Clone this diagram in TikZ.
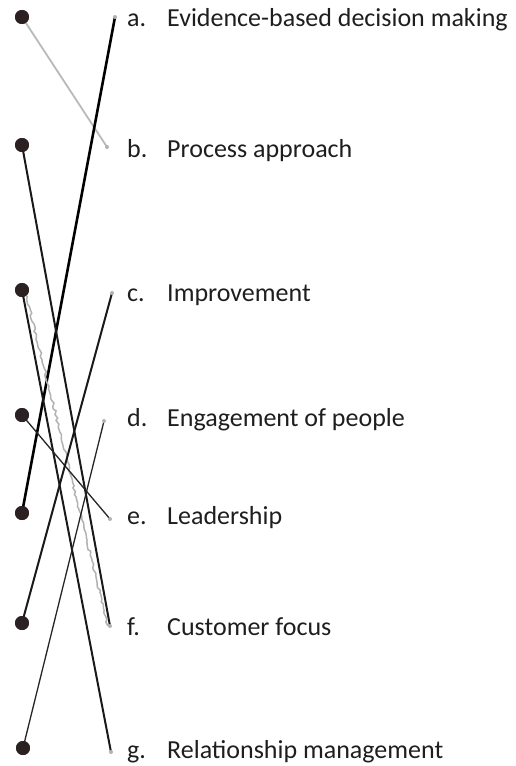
\documentclass[tikz,border=0pt]{standalone}
\usepackage{fontspec}
\setmainfont{Carlito}
\usetikzlibrary{decorations.pathmorphing}
\definecolor{dotc}{HTML}{2B2022}
\definecolor{txt}{HTML}{1E1E1E}
\tikzset{
  pin/.style={circle,fill=dotc,inner sep=0pt,minimum size=14pt},
  tip/.style={circle,fill=gray!70,inner sep=0pt,minimum size=3.5pt},
  lab/.style={anchor=base west,inner sep=0pt,font=\fontsize{26}{30}\selectfont,text=txt},
  thickline/.style={line width=2.6pt,black},
  midline/.style={line width=2pt,black!90},
  thinline/.style={line width=1.3pt,black!85},
  greyline/.style={line width=1.8pt,gray!55},
  scribble/.style={line width=1.5pt,gray!60,decorate,decoration={random steps,segment length=3pt,amplitude=1.2pt}}
}
\begin{document}
\begin{tikzpicture}[x=1pt,y=-1pt]
\useasboundingbox (0,0) rectangle (515,766);
% left pins
\node[pin] (L1) at (22,17) {};
\node[pin] (L2) at (22,145) {};
\node[pin] (L3) at (22,290) {};
\node[pin] (L4) at (22,415) {};
\node[pin] (L5) at (22,513) {};
\node[pin] (L6) at (22,623) {};
\node[pin] (L7) at (23,748) {};
% right ends
\coordinate (Ra) at (115,17);
\coordinate (Rb) at (107,147);
\coordinate (Rc) at (112,293);
\coordinate (Rd) at (104,421);
\coordinate (Re) at (110,519);
\coordinate (Rf) at (110,626);
\coordinate (Rg) at (111,752);
% connectors
\draw[greyline] (L1.center) -- (Rb);
\draw[thickline] (L5.center) -- (Ra);
\draw[midline] (L2.center) -- (Rf);
\draw[scribble] ([xshift=3pt]L3.center) -- ([xshift=-2pt]Rf);
\draw[midline] (L3.center) -- (Rg);
\draw[thinline] (L4.center) -- (Re);
\draw[midline] (L6.center) -- (Rc);
\draw[thinline] (L7.center) -- (Rd);
% pins and tips on top
\foreach \n in {L1,L2,L3,L4,L5,L6,L7}{\fill[dotc] (\n) circle (7pt);}
\foreach \n in {Ra,Rb,Rc,Rd,Re,Rf,Rg}{\fill[gray!60] (\n) circle (2pt);}
% labels
\node[lab] (la) at (127,26) {a.};
\node[lab] (ta) at (167,26) {Evidence-based decision making};
\node[lab] (lb) at (127,157) {b.};
\node[lab] (tb) at (167,157) {Process approach};
\node[lab] (lc) at (127,301) {c.};
\node[lab] (tc) at (167,301) {Improvement};
\node[lab] (ld) at (127,426) {d.};
\node[lab] (td) at (167,426) {Engagement of people};
\node[lab] (le) at (127,524) {e.};
\node[lab] (te) at (167,524) {Leadership};
\node[lab] (lf) at (127,635) {f.};
\node[lab] (tf) at (167,635) {Customer focus};
\node[lab] (lg) at (127,758) {g.};
\node[lab] (tg) at (167,758) {Relationship management};
\end{tikzpicture}
\end{document}
